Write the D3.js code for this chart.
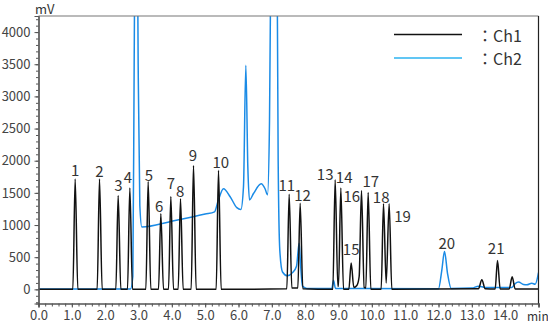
<!DOCTYPE html>
<html>
<head>
<meta charset="utf-8">
<script src="https://cdn.jsdelivr.net/npm/d3@7"></script>
<style>
  body { margin: 0; background: #ffffff; }
  text { font-family: "Noto Sans CJK JP", "Noto Sans", sans-serif; }
</style>
</head>
<body>
<script>

// Ch1 trace: [time (min), signal (mV)]
var ch1Trace = [
  [0.00, 0], [1.03, 0], [1.10, 1715], [1.18, 0],
  [1.76, 0], [1.83, 1715], [1.91, 0],
  [2.32, 0], [2.39, 1460], [2.47, 0],
  [2.67, 0], [2.74, 1575], [2.82, 0],
  [3.22, 0], [3.29, 1675], [3.37, 0],
  [3.60, 0], [3.67, 1175], [3.75, 0],
  [3.90, 0], [3.97, 1445], [4.05, 0],
  [4.19, 0], [4.26, 1410], [4.34, 0],
  [4.58, 0], [4.65, 1925], [4.73, 0],
  [5.33, 0], [5.40, 1850], [5.48, 0],
  [7.45, 10], [7.52, 1480], [7.60, 20],
  [7.78, 20], [7.85, 1340], [7.93, 10],
  [8.83, 0], [8.90, 1705], [8.98, 50],
  [9.00, 50], [9.07, 1575], [9.15, 0],
  [9.31, 0], [9.38, 410], [9.46, 30],
  [9.55, 60], [9.62, 200], [9.69, 1535], [9.77, 30],
  [9.82, 20], [9.89, 1505], [9.97, 0],
  [10.28, 0], [10.35, 1330], [10.43, 100],
  [10.52, 1330], [10.60, 0],
  [13.20, 10], [13.30, 150], [13.40, 10],
  [13.70, 5], [13.77, 450], [13.85, 5],
  [14.12, 5], [14.21, 195], [14.30, 5],
  [15.00, 5]
];

// Ch2 trace: [time (min), signal (mV)]
var ch2Trace = [
  [0.00, 5], [2.76, 5], [2.83, 200], [2.87, 3500], [2.93, 8000],
  [2.99, 3500], [3.04, 1300], [3.10, 970], [4.00, 1060], [5.00, 1170],
  [5.28, 1205], [5.38, 1360], [5.55, 1565], [5.75, 1440], [5.95, 1270],
  [6.07, 1240], [6.15, 1600], [6.22, 3485], [6.28, 1900], [6.33, 1390],
  [6.45, 1490], [6.68, 1640], [6.80, 1560], [6.87, 1470], [6.93, 2600],
  [6.99, 6500], [7.07, 9000], [7.15, 6000], [7.19, 2000], [7.24, 600],
  [7.32, 270], [7.47, 210], [7.62, 260], [7.74, 360], [7.82, 715],
  [7.86, 400], [7.92, 50], [8.05, 15], [8.80, 15], [8.85, 140],
  [8.91, 15], [12.00, 10], [12.10, 300], [12.18, 590], [12.27, 250],
  [12.38, 15], [13.00, 20], [13.20, 50], [13.40, 30], [14.20, 30],
  [14.30, 90], [14.40, 115], [14.55, 75], [14.65, 70], [14.80, 95],
  [14.90, 80], [15.00, 260]
];

// peak labels, placed at [time, mV]
var peakLabels = ["1", "2", "3", "4", "5", "6", "7", "8", "9", "10", "11",
                  "12", "13", "14", "15", "16", "17", "18", "19", "20", "21"];
var peakLabelTimes = [1.10, 1.83, 2.40, 2.68, 3.31, 3.62, 3.97, 4.25, 4.63, 5.47, 7.45,
                      7.92, 8.60, 9.17, 9.38, 9.40, 9.97, 10.28, 10.92, 12.25, 13.73];
var peakLabelValues = [1870, 1850, 1630, 1755, 1780, 1300, 1655, 1540, 2100, 1990, 1630,
                       1480, 1800, 1755, 635, 1455, 1690, 1445, 1145, 730, 655];

var seriesNames = ["Ch1", "Ch2"];
var xTickLabels = ["0.0", "1.0", "2.0", "3.0", "4.0", "5.0", "6.0", "7.0",
                   "8.0", "9.0", "10.0", "11.0", "12.0", "13.0", "14.0"];
var yTickLabels = [0, 500, 1000, 1500, 2000, 2500, 3000, 3500, 4000];

var SVG_WIDTH = 548;
var SVG_HEIGHT = 323;
var PLOT_LEFT = 38.5;
var PLOT_RIGHT = 538.5;
var PLOT_TOP = 16;
var PLOT_BOTTOM = 303.5;
var CH1_COLOR = "#111111";
var CH2_COLOR = "#1a8be6";
var CH2_LEGEND_COLOR = "#2db3f0";
var AXIS_COLOR = "#555555";
var TEXT_COLOR = "#333333";

var svg, xScale, yScale;

function setupScales()
{
  xScale = d3.scaleLinear().domain([0, 15]).range([PLOT_LEFT, PLOT_RIGHT]);
  yScale = d3.scaleLinear().domain([-220, 4250]).range([PLOT_BOTTOM, PLOT_TOP]);
}

function setupAxes()
{
  // minor + major ticks on x
  var xMinor = d3.range(0, 75.5, 1).map(function(d) { return d / 5; });
  svg.append("g")
     .attr("transform", "translate(0," + PLOT_BOTTOM + ")")
     .call(d3.axisBottom(xScale).tickValues(xMinor).tickSize(3).tickFormat(""))
     .call(styleAxis);
  svg.append("g")
     .attr("transform", "translate(0," + PLOT_BOTTOM + ")")
     .call(d3.axisBottom(xScale).tickValues(d3.range(0, 15.5, 1)).tickSize(4)
           .tickPadding(3)
           .tickFormat(function(d, i) { return xTickLabels[i] || ""; }))
     .call(styleAxis);

  // y ticks
  var yMinor = d3.range(-200, 4201, 100);
  svg.append("g")
     .attr("transform", "translate(" + PLOT_LEFT + ",0)")
     .call(d3.axisLeft(yScale).tickValues(yMinor).tickSize(2.5).tickFormat(""))
     .call(styleAxis);
  svg.append("g")
     .attr("transform", "translate(" + PLOT_LEFT + ",0)")
     .call(d3.axisLeft(yScale).tickValues(yTickLabels).tickSize(4).tickPadding(4)
           .tickFormat(d3.format("d")))
     .call(styleAxis);

  // frame: top and right
  svg.append("line")
     .attr("x1", PLOT_LEFT).attr("x2", PLOT_RIGHT)
     .attr("y1", PLOT_TOP).attr("y2", PLOT_TOP)
     .style("stroke", "#777777").style("stroke-width", 1.2);
  svg.append("line")
     .attr("x1", PLOT_RIGHT).attr("x2", PLOT_RIGHT)
     .attr("y1", PLOT_TOP).attr("y2", PLOT_BOTTOM)
     .style("stroke", "#222222").style("stroke-width", 1.2);

  // units
  svg.append("text").attr("x", 35).attr("y", 14)
     .style("font-size", "13px").style("fill", TEXT_COLOR)
     .text("mV");
  svg.append("text").attr("x", 527).attr("y", 321)
     .style("font-size", "12px").style("fill", TEXT_COLOR)
     .text("min");
}

function styleAxis(g)
{
  g.select(".domain").style("stroke", AXIS_COLOR).style("stroke-width", 1.2);
  g.selectAll(".tick line").style("stroke", AXIS_COLOR);
  g.selectAll(".tick text")
   .style("font-family", "'Noto Sans CJK JP', 'Noto Sans', sans-serif")
   .style("font-size", "13px")
   .style("fill", "#444444");
}

function drawTraces()
{
  svg.append("clipPath").attr("id", "plot_clip")
     .append("rect")
     .attr("x", PLOT_LEFT).attr("y", PLOT_TOP)
     .attr("width", PLOT_RIGHT - PLOT_LEFT)
     .attr("height", PLOT_BOTTOM - PLOT_TOP);

  var line = d3.line()
               .x(function(d) { return xScale(d[0]); })
               .y(function(d) { return yScale(d[1]); })
               .curve(d3.curveMonotoneX);

  var traces = svg.append("g").attr("clip-path", "url(#plot_clip)");

  traces.append("path")
        .datum(ch2Trace)
        .attr("d", line)
        .style("fill", "none")
        .style("stroke", CH2_COLOR)
        .style("stroke-width", 1.5);

  traces.append("path")
        .datum(ch1Trace)
        .attr("d", line)
        .style("fill", "none")
        .style("stroke", CH1_COLOR)
        .style("stroke-width", 1.5);
}

function drawPeakLabels()
{
  svg.append("g").selectAll("text")
     .data(peakLabels)
     .enter().append("text")
     .attr("x", function(d, i) { return xScale(peakLabelTimes[i]); })
     .attr("y", function(d, i) { return yScale(peakLabelValues[i]); })
     .attr("text-anchor", "middle")
     .attr("dominant-baseline", "central")
     .style("font-size", "15px")
     .style("fill", TEXT_COLOR)
     .text(function(d) { return d; });
}

function drawLegend()
{
  var colors = [CH1_COLOR, CH2_LEGEND_COLOR];
  var legendY = [34.5, 58];
  var legend = svg.append("g");

  legend.selectAll("line")
        .data(seriesNames)
        .enter().append("line")
        .attr("x1", 394).attr("x2", 462)
        .attr("y1", function(d, i) { return legendY[i]; })
        .attr("y2", function(d, i) { return legendY[i]; })
        .style("stroke", function(d, i) { return colors[i]; })
        .style("stroke-width", 1.5);

  legend.selectAll("text")
        .data(seriesNames)
        .enter().append("text")
        .attr("x", 477)
        .attr("y", function(d, i) { return legendY[i]; })
        .attr("dominant-baseline", "central")
        .style("font-size", "16px")
        .style("fill", TEXT_COLOR)
        .text(function(d) { return "\uff1a" + d; });
}

function initializeMainEnvironment()
{
  setupScales();
  svg = d3.select("body").append("svg")
          .attr("width", SVG_WIDTH)
          .attr("height", SVG_HEIGHT);
  drawTraces();
  setupAxes();
  drawPeakLabels();
  drawLegend();
}

initializeMainEnvironment();
</script>
</body>
</html>
